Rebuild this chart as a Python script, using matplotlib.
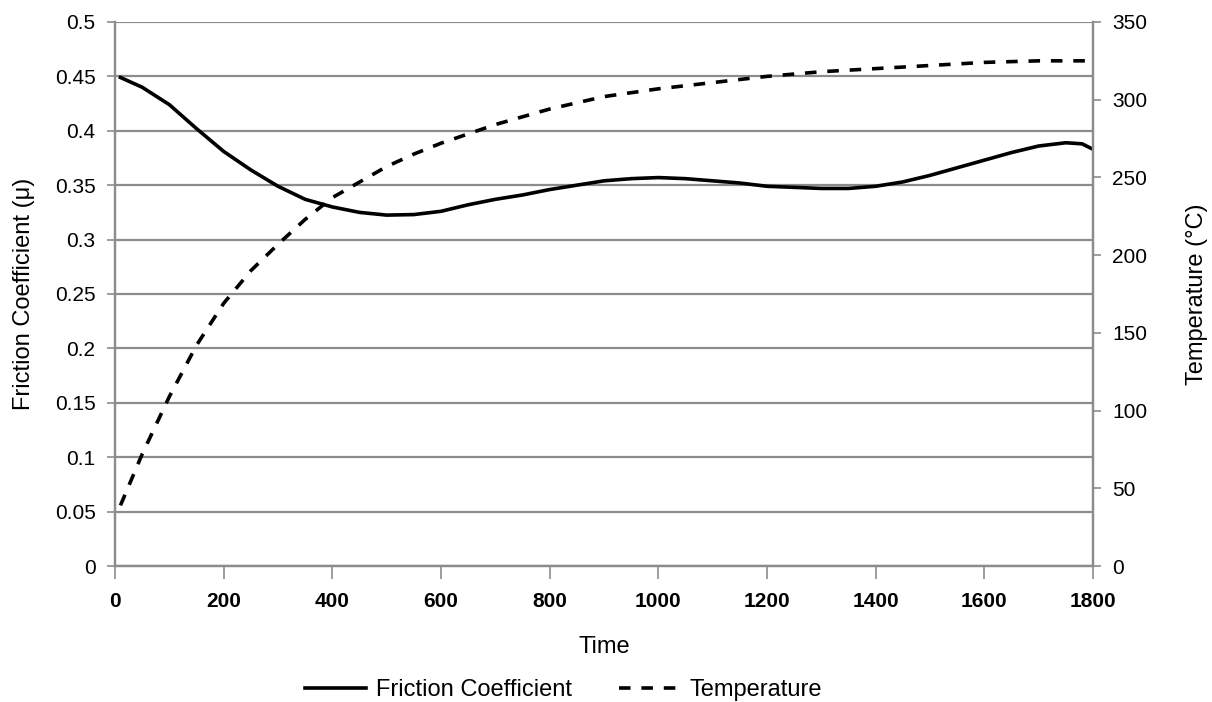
import numpy as np
import matplotlib.pyplot as plt

plt.rcParams['font.family'] = ['Liberation Sans', 'DejaVu Sans']

# friction coefficient vs time
t_mu = [10, 50, 100, 150, 200, 250, 300, 350, 400, 450, 500, 550, 600, 650, 700,
        750, 800, 850, 900, 950, 1000, 1050, 1100, 1150, 1200, 1250, 1300, 1350,
        1400, 1450, 1500, 1550, 1600, 1650, 1700, 1750, 1780, 1800]
mu = [0.449, 0.440, 0.424, 0.402, 0.381, 0.364, 0.349, 0.337, 0.330, 0.325,
      0.3225, 0.323, 0.326, 0.332, 0.337, 0.341, 0.346, 0.350, 0.354, 0.356,
      0.357, 0.356, 0.354, 0.352, 0.349, 0.348, 0.347, 0.347, 0.349, 0.353,
      0.359, 0.366, 0.373, 0.380, 0.386, 0.389, 0.388, 0.383]

# temperature vs time
t_temp = [10, 50, 100, 150, 200, 250, 300, 350, 400, 450, 500, 550, 600, 700,
          800, 900, 1000, 1100, 1200, 1300, 1400, 1500, 1600, 1700, 1800]
temp = [39, 72, 109, 142, 169, 190, 207, 223, 237, 247, 257, 265, 272, 284,
        294, 302, 307, 311, 315, 318, 320, 322, 324, 325, 325]

grey = '#8c8c8c'

fig = plt.figure(figsize=(12.12, 7.02), dpi=100)
ax = fig.add_axes([0.0949, 0.1937, 0.8069, 0.775])
ax2 = ax.twinx()

l1, = ax.plot(t_mu, mu, color='black', lw=2.6, label='Friction Coefficient')
l2, = ax2.plot(t_temp, temp, color='black', lw=2.6, dashes=(3.2, 3), label='Temperature')

ax.set_xlim(0, 1800)
ax.set_ylim(0, 0.5)
ax2.set_ylim(0, 350)
ax.set_xticks(np.arange(0, 1801, 200))
ax.set_yticks(np.arange(0, 0.501, 0.05))
ax.set_yticklabels(['0', '0.05', '0.1', '0.15', '0.2', '0.25', '0.3', '0.35',
                    '0.4', '0.45', '0.5'])
ax2.set_yticks(np.arange(0, 351, 50))

ax.grid(axis='y', color=grey, lw=1.6)
ax.set_axisbelow(True)
for a in (ax, ax2):
    a.spines['top'].set_visible(False)
    for s in ('left', 'right', 'bottom'):
        a.spines[s].set_color(grey)
        a.spines[s].set_linewidth(1.6)
ax.tick_params(axis='x', direction='out', length=9, width=1.2, color=grey,
               labelsize=15, pad=10)
ax.tick_params(axis='y', direction='out', length=6, width=1.2, color=grey,
               labelsize=15, pad=8)
ax2.tick_params(axis='y', direction='out', length=6, width=1.2, color=grey,
                labelsize=15, pad=8)
for lab in ax.get_xticklabels():
    lab.set_fontweight('bold')

ax.set_xlabel('Time', fontsize=17, labelpad=18)
ax.set_ylabel('Friction Coefficient (μ)', fontsize=17, labelpad=14)
ax2.set_ylabel('Temperature (°C)', fontsize=17, labelpad=28)

fig.legend(handles=[l1, l2], loc='center', bbox_to_anchor=(0.465, 0.017),
           ncol=2, frameon=False, fontsize=17, handlelength=2.6,
           columnspacing=2.0, handletextpad=0.4)

fig.savefig('out.png', dpi=100)
